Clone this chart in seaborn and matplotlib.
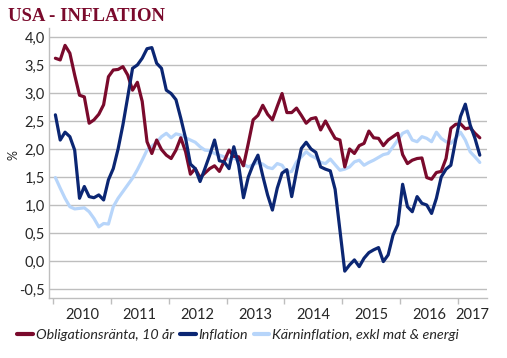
import numpy as np
import pandas as pd
import matplotlib
matplotlib.use("Agg")
import matplotlib.pyplot as plt
import seaborn as sns
from matplotlib.ticker import FixedLocator, FuncFormatter

# monthly data, Jan 2010 - May 2017
years = ["2010", "2011", "2012", "2013", "2014", "2015", "2016", "2017"]

ranta = [3.62, 3.59, 3.85, 3.71, 3.32, 2.96, 2.93, 2.46, 2.52, 2.62, 2.79, 3.29,
         3.41, 3.42, 3.47, 3.32, 3.05, 3.19, 2.85, 2.13, 1.92, 2.16, 1.99, 1.89,
         1.83, 1.98, 2.20, 1.95, 1.55, 1.65, 1.49, 1.57, 1.65, 1.70, 1.60, 1.78,
         1.98, 1.87, 1.86, 1.70, 2.10, 2.52, 2.60, 2.78, 2.62, 2.52, 2.76, 2.99,
         2.65, 2.65, 2.73, 2.60, 2.46, 2.54, 2.56, 2.34, 2.50, 2.34, 2.19, 2.16,
         1.68, 2.00, 1.92, 2.06, 2.10, 2.32, 2.20, 2.19, 2.06, 2.16, 2.22, 2.28,
         1.90, 1.74, 1.80, 1.83, 1.84, 1.49, 1.46, 1.58, 1.60, 1.83, 2.37, 2.44,
         2.45, 2.36, 2.38, 2.28, 2.20]

inflation = [2.61, 2.16, 2.30, 2.22, 1.98, 1.12, 1.33, 1.15, 1.13, 1.18, 1.09, 1.45,
             1.65, 2.00, 2.43, 2.93, 3.44, 3.50, 3.62, 3.79, 3.81, 3.53, 3.44, 3.05,
             2.99, 2.88, 2.55, 2.19, 1.73, 1.65, 1.42, 1.65, 1.89, 2.16, 1.79, 1.77,
             1.65, 2.04, 1.71, 1.13, 1.50, 1.72, 1.89, 1.52, 1.18, 0.91, 1.30, 1.57,
             1.63, 1.15, 1.60, 2.01, 2.12, 2.00, 1.94, 1.68, 1.64, 1.61, 1.28, 0.55,
             -0.18, -0.07, 0.02, -0.10, 0.05, 0.15, 0.20, 0.24, -0.01, 0.11, 0.46, 0.65,
             1.37, 0.97, 0.88, 1.15, 1.03, 1.00, 0.85, 1.12, 1.50, 1.64, 1.71, 2.16,
             2.58, 2.80, 2.43, 2.19, 1.89]

karn = [1.49, 1.30, 1.12, 0.97, 0.93, 0.94, 0.95, 0.88, 0.76, 0.61, 0.67, 0.66,
        0.97, 1.12, 1.24, 1.36, 1.48, 1.63, 1.80, 1.98, 2.05, 2.12, 2.22, 2.28,
        2.20, 2.27, 2.25, 2.20, 2.16, 2.12, 2.04, 1.98, 1.97, 1.92, 1.89, 1.86,
        1.80, 1.84, 1.79, 1.73, 1.68, 1.72, 1.76, 1.73, 1.67, 1.65, 1.74, 1.71,
        1.58, 1.60, 1.77, 1.86, 1.95, 1.88, 1.84, 1.76, 1.74, 1.82, 1.72, 1.62,
        1.64, 1.68, 1.77, 1.80, 1.71, 1.76, 1.80, 1.85, 1.90, 1.92, 2.04, 2.16,
        2.28, 2.32, 2.16, 2.13, 2.22, 2.19, 2.13, 2.30, 2.19, 2.13, 2.10, 2.19,
        2.30, 2.16, 1.95, 1.86, 1.76]

labels = ["Obligationsränta, 10 år", "Inflation", "Kärninflation, exkl mat & energi"]
colors = ["#7A0A2C", "#0B2673", "#B7D5FA"]

sns.set_style("white")
plt.rcParams["font.family"] = ["Lato", "DejaVu Sans"]

month = np.arange(len(ranta))
df = pd.DataFrame({"m": month, labels[0]: ranta, labels[1]: inflation, labels[2]: karn})

fig = plt.figure(figsize=(5.07, 3.58), dpi=100)
ax = fig.add_axes([0.0966, 0.1676, 0.864, 0.7542])

# light blue behind, then red, then dark blue on top
sns.lineplot(data=df, x="m", y=labels[2], color=colors[2], linewidth=2.3, ax=ax, zorder=2)
sns.lineplot(data=df, x="m", y=labels[0], color=colors[0], linewidth=2.3, ax=ax, zorder=3)
sns.lineplot(data=df, x="m", y=labels[1], color=colors[1], linewidth=2.3, ax=ax, zorder=4)

ax.set_ylim(-0.66, 4.16)
ax.set_xlim(-1.33, 89.5)
ax.set_yticks(np.arange(-0.5, 4.01, 0.5))
ax.yaxis.set_major_formatter(FuncFormatter(lambda v, p: f"{v:.1f}".replace(".", ",")))
ax.grid(axis="y", color="#BEBEBE", linewidth=1)
ax.set_axisbelow(True)

# year boundaries as tick marks, year names in between
bounds = [-0.5 + 12 * k for k in range(8)]
centers = [5.5 + 12 * k for k in range(7)] + [86.5]
ax.xaxis.set_major_locator(FixedLocator(bounds))
ax.xaxis.set_minor_locator(FixedLocator(centers))
ax.xaxis.set_major_formatter(FuncFormatter(lambda v, p: ""))
ax.set_xticklabels(years, minor=True)
ax.tick_params(axis="x", which="major", length=4, color="#BEBEBE", width=1, direction="out", bottom=True)
ax.tick_params(axis="x", which="minor", length=0, labelsize=10.5, labelcolor="#262626", pad=7)
ax.tick_params(axis="y", length=0, labelsize=10.5, labelcolor="#262626", pad=3)

sns.despine(ax=ax, top=True, right=True)
for s in ["left", "bottom"]:
    ax.spines[s].set_color("#BEBEBE")
    ax.spines[s].set_linewidth(1)

ax.set_xlabel("")
ax.set_ylabel("")
fig.text(14 / 507, 1 - 155 / 358, "%", rotation=90, fontsize=9, color="#262626",
         ha="center", va="center")

fig.text(0.016, 0.953, "USA - INFLATION", family=["Liberation Serif"], fontweight="bold",
         fontsize=13.5, color="#7A0A2C", va="center", ha="left")

handles = [plt.Line2D([], [], color=c, linewidth=3) for c in colors]
fig.legend(handles, labels, loc="center", bbox_to_anchor=(0.47, 0.064), ncol=3, frameon=False,
           prop={"style": "italic", "size": 10.3}, handlelength=1.1, handletextpad=0.2,
           columnspacing=0.4, labelcolor="#262626")

fig.savefig("out.png", dpi=100)
